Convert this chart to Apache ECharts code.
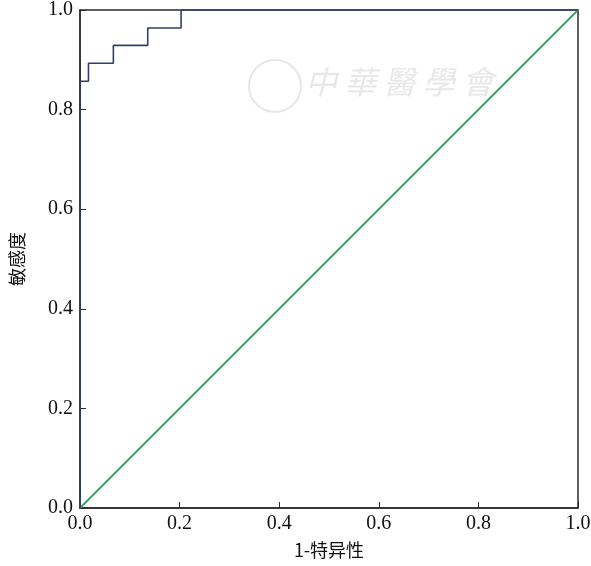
<!DOCTYPE html>
<html>
<head>
<meta charset="utf-8">
<script src="https://cdn.jsdelivr.net/npm/echarts@6/dist/echarts.min.js"></script>
<style>
  html, body { margin: 0; padding: 0; background: #fff; }
  #chart { width: 591px; height: 566px; }
</style>
</head>
<body>
<div id="chart"></div>
<script>
// ROC 曲线 (1-特异性, 敏感度)
const rocX = [0, 0, 0.017, 0.017, 0.067, 0.067, 0.136, 0.136, 0.203, 0.203, 1]
const rocY = [0, 0.857, 0.857, 0.893, 0.893, 0.929, 0.929, 0.964, 0.964, 1, 1]
// 参考线
const refX = [0, 1]
const refY = [0, 1]
const tickLabels = ['0.0', '0.2', '0.4', '0.6', '0.8', '1.0']

const serif = "'Liberation Serif', 'Times New Roman', serif"
const cjk = "'Noto Sans CJK SC', sans-serif"

const myChart = echarts.init(document.getElementById('chart'))
const option = {
  backgroundColor: '#fff',
  animation: false,
  grid: {
    left: 80,
    right: 13,
    top: 10,
    bottom: 58,
    containLabel: false,
    outerBoundsMode: 'none',
    show: true,
    borderColor: '#2b2b2b',
    borderWidth: 1.5
  },
  graphic: [
    {
      type: 'circle',
      shape: { cx: 275, cy: 86, r: 26 },
      style: { fill: 'none', stroke: '#e6e6e6', lineWidth: 2 },
      silent: true
    },
    {
      type: 'text',
      left: 305,
      top: 66,
      style: {
        text: '中 華 醫 學 會',
        font: "italic 32px 'Noto Sans CJK TC'",
        fill: '#e8e8e8'
      },
      silent: true
    }
  ],
  xAxis: {
    type: 'value',
    min: 0,
    max: 1,
    interval: 0.2,
    name: '1-特异性',
    nameLocation: 'middle',
    nameGap: 33,
    nameTextStyle: { fontFamily: cjk, fontSize: 18, color: '#111' },
    axisLine: { show: true, lineStyle: { color: '#2b2b2b', width: 1.5 } },
    axisTick: { show: true, inside: true, length: 6, lineStyle: { color: '#2b2b2b' } },
    axisLabel: {
      fontFamily: serif,
      fontSize: 20,
      color: '#111',
      margin: 6,
      formatter: (v, i) => tickLabels[i]
    },
    splitLine: { show: false }
  },
  yAxis: {
    type: 'value',
    min: 0,
    max: 1,
    interval: 0.2,
    name: '敏感度',
    nameLocation: 'middle',
    nameGap: 54,
    nameRotate: 90,
    nameTextStyle: { fontFamily: cjk, fontSize: 18, color: '#111' },
    axisLine: { show: true, lineStyle: { color: '#2b2b2b', width: 1.5 } },
    axisTick: { show: true, inside: true, length: 6, lineStyle: { color: '#2b2b2b' } },
    axisLabel: {
      fontFamily: serif,
      fontSize: 20,
      color: '#111',
      margin: 7,
      formatter: (v, i) => tickLabels[i]
    },
    splitLine: { show: false }
  },
  series: [
    {
      name: '参考线',
      type: 'line',
      data: refX.map((x, i) => [x, refY[i]]),
      symbol: 'none',
      lineStyle: { color: '#3c9a5f', width: 1.8 }
    },
    {
      name: 'ROC',
      type: 'line',
      data: rocX.map((x, i) => [x, rocY[i]]),
      symbol: 'none',
      lineStyle: { color: '#2f3e6c', width: 1.6 },
      z: 3
    }
  ]
}
myChart.setOption(option, true)
</script>
</body>
</html>
